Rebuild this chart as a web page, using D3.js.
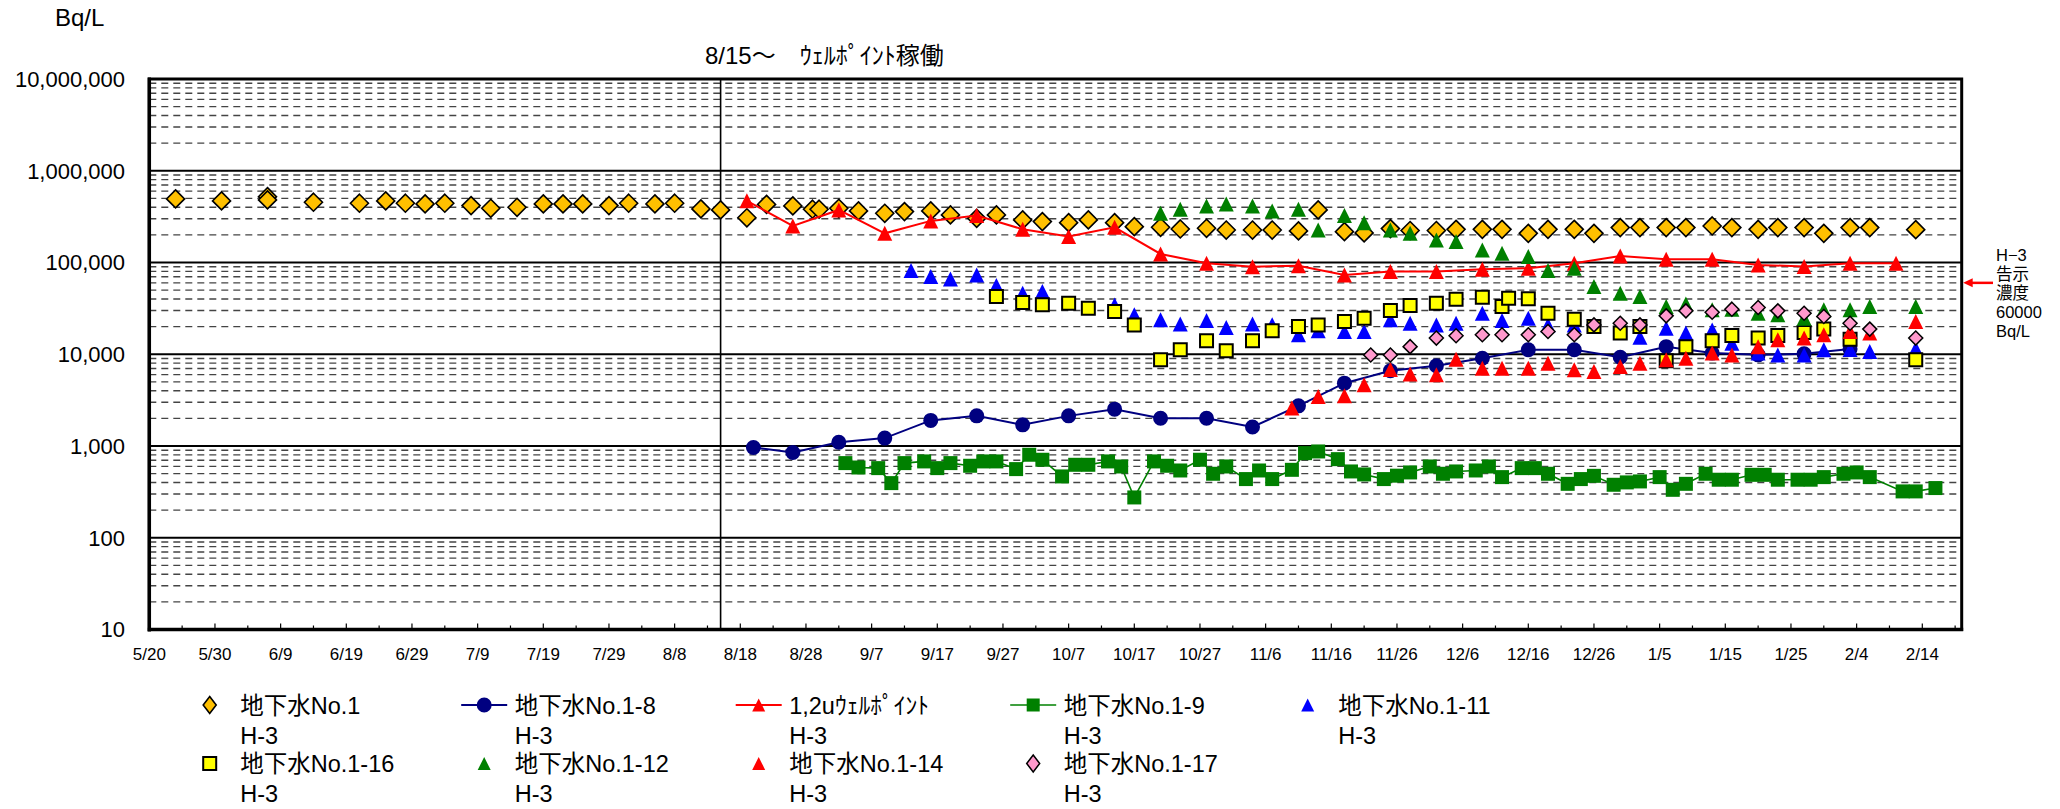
<!DOCTYPE html>
<html><head><meta charset="utf-8">
<script src="https://cdn.jsdelivr.net/npm/d3@7"></script>
<style>body{margin:0;background:#fff}svg{display:block}</style>
</head><body>
<svg id="chart" width="2060" height="809"></svg>
<script>
// ---------- axis labels ----------
const xTickLabels = ["5/20","5/30","6/9","6/19","6/29","7/9","7/19","7/29","8/8","8/18","8/28","9/7","9/17","9/27","10/7","10/17","10/27","11/6","11/16","11/26","12/6","12/16","12/26","1/5","1/15","1/25","2/4","2/14"];
const yTickValues = [10,100,1000,10000,100000,1000000,10000000];
const yTickLabels = ["10","100","1,000","10,000","100,000","1,000,000","10,000,000"];
const xDomain = ["5/20","2/20"];
const startLine = "8/15";

// ---------- series data (date M/D, value Bq/L) ----------
const no1Dates = ["5/24","5/31","6/7","6/7","6/14","6/21","6/25","6/28","7/1","7/4","7/8","7/11","7/15","7/19","7/22","7/25","7/29","8/1","8/5","8/8","8/12","8/15","8/19","8/22","8/26","8/29","8/30","9/2","9/5","9/9","9/12","9/16","9/19","9/23","9/26","9/30","10/3","10/7","10/10","10/14","10/17","10/21","10/24","10/28","10/31","11/4","11/7","11/11","11/14","11/18","11/21","11/25","11/28","12/2","12/5","12/9","12/12","12/16","12/19","12/23","12/26","12/30","1/2","1/6","1/9","1/13","1/16","1/20","1/23","1/27","1/30","2/3","2/6","2/13"];
const no1Values = [493000,469000,522000,481000,454000,443000,469000,443000,435000,443000,417000,390000,400000,435000,435000,435000,417000,443000,435000,443000,384000,374000,307000,430000,414000,381000,381000,390000,365000,344000,359000,365000,330000,303000,330000,291000,279000,272000,291000,272000,246000,242000,232000,236000,226000,226000,226000,221000,374000,217000,210000,234000,223000,223000,230000,230000,230000,208000,230000,230000,208000,240000,240000,240000,240000,250000,240000,230000,240000,240000,208000,240000,240000,228000];

const no1_8Dates = ["8/20","8/26","9/2","9/9","9/16","9/23","9/30","10/7","10/14","10/21","10/28","11/4","11/11","11/18","11/25","12/2","12/9","12/16","12/23","12/30","1/6","1/13","1/20","1/27","2/3"];
const no1_8Values = [964,851,1100,1220,1900,2130,1700,2130,2520,2010,2010,1610,2740,4840,6600,7480,9060,11200,11200,9290,12100,10300,9850,10100,11400];

const wellPointDates = ["8/19","8/26","9/2","9/9","9/16","9/23","9/30","10/7","10/14","10/21","10/28","11/4","11/11","11/18","11/25","12/2","12/9","12/16","12/23","12/30","1/6","1/13","1/20","1/27","2/3","2/10"];
const wellPointValues = [470000,250000,374000,208000,284000,325000,230000,192000,242000,124000,98000,90000,92000,73000,79600,79600,84500,86700,98200,118000,108600,108600,94200,90400,98200,98200];

const no1_9Dates = ["9/3","9/5","9/8","9/10","9/12","9/15","9/17","9/19","9/22","9/24","9/26","9/29","10/1","10/3","10/6","10/8","10/10","10/13","10/15","10/17","10/20","10/22","10/24","10/27","10/29","10/31","11/3","11/5","11/7","11/10","11/12","11/14","11/17","11/19","11/21","11/24","11/26","11/28","12/1","12/3","12/5","12/8","12/10","12/12","12/15","12/17","12/19","12/22","12/24","12/26","12/29","12/31","1/2","1/5","1/7","1/9","1/12","1/14","1/16","1/19","1/21","1/23","1/26","1/28","1/30","2/2","2/4","2/6","2/11","2/13","2/16"];
const no1_9Values = [651,583,574,394,651,679,574,651,609,679,679,560,802,708,466,624,624,679,598,275,679,609,541,708,498,598,436,541,436,550,836,872,719,528,490,436,475,515,598,498,528,541,598,458,574,574,498,387,436,473,378,401,411,458,333,387,498,429,429,485,485,429,429,429,458,498,515,458,320,320,348];

const no1_11Dates = ["9/13","9/16","9/19","9/23","9/26","9/30","10/3","10/14","10/17","10/21","10/24","10/28","10/31","11/4","11/7","11/11","11/14","11/18","11/21","11/25","11/28","12/2","12/5","12/9","12/12","12/16","12/19","12/23","1/2","1/6","1/9","1/13","1/16","1/20","1/23","1/27","1/30","2/3","2/6","2/13"];
const no1_11Values = [81700,70300,66300,73300,56000,46300,48300,34500,26900,23700,21400,23300,19600,21400,21000,16300,18000,17700,17700,23700,21800,20900,21800,28000,23300,24700,20900,20900,15300,19200,17000,18400,13200,10300,9800,9800,11200,11300,10700,11500];

const no1_16Dates = ["9/26","9/30","10/3","10/7","10/10","10/14","10/17","10/21","10/24","10/28","10/31","11/4","11/7","11/11","11/14","11/18","11/21","11/25","11/28","12/2","12/5","12/9","12/12","12/13","12/16","12/19","12/23","12/26","12/30","1/2","1/6","1/9","1/13","1/16","1/20","1/23","1/27","1/30","2/3","2/13"];
const no1_16Values = [42600,36600,34600,36000,31800,29200,20900,8690,11200,14000,10900,14000,18000,20100,20900,22700,24700,30000,34000,36000,39800,41900,33100,40800,40200,28000,24100,20100,17000,20100,8470,12100,14000,16000,15000,16000,17300,18900,14600,8690];

const no1_12Dates = ["10/21","10/24","10/28","10/31","11/4","11/7","11/11","11/14","11/18","11/21","11/25","11/28","12/2","12/5","12/9","12/12","12/16","12/19","12/23","12/26","12/30","1/2","1/6","1/9","1/13","1/16","1/20","1/23","1/27","1/30","2/3","2/6","2/13"];
const no1_12Values = [344000,381000,414000,435000,414000,365000,381000,226000,325000,272000,226000,208000,176000,169000,137000,126000,116000,81600,86600,54700,46300,42600,33100,35400,30500,31000,28000,26900,24700,30500,30500,33100,33100];

const no1_14Dates = ["11/10","11/14","11/18","11/21","11/25","11/28","12/2","12/5","12/9","12/12","12/16","12/19","12/23","12/26","12/30","1/2","1/6","1/9","1/13","1/16","1/20","1/23","1/27","1/30","2/3","2/6","2/13"];
const no1_14Values = [2590,3470,3530,4640,6800,6100,5970,8840,7050,7050,7050,8000,6760,6490,7350,8000,8700,9060,10300,9800,12100,14400,15000,16300,17700,17000,22700];

const no1_17Dates = ["11/22","11/25","11/28","12/2","12/5","12/9","12/12","12/16","12/19","12/23","12/26","12/30","1/2","1/6","1/9","1/13","1/16","1/20","1/23","1/27","1/30","2/3","2/6","2/13"];
const no1_17Values = [9800,9800,12100,15000,15900,16300,16300,16300,17700,16300,20900,21800,20900,26200,29700,28700,31000,32300,29700,28000,25800,21800,18800,15000];

const seriesNames = ["地下水No.1","地下水No.1-8","1,2uｳｪﾙﾎﾟｲﾝﾄ","地下水No.1-9","地下水No.1-11","地下水No.1-16","地下水No.1-12","地下水No.1-14","地下水No.1-17"];
const seriesSub = "H-3";

// ---------- helpers ----------
function toDate(md){
  const [m,d] = md.split("/").map(Number);
  return new Date(Date.UTC(m >= 5 ? 2013 : 2014, m-1, d));
}

const series = [
  {name:seriesNames[0], dates:no1Dates, values:no1Values, shape:"diamond", fill:"#FFC000", stroke:"#000", sw:1.6, size:9, line:null},
  {name:seriesNames[1], dates:no1_8Dates, values:no1_8Values, shape:"circle", fill:"#000080", stroke:"#000080", sw:0, size:7.5, line:"#000080", lw:2},
  {name:seriesNames[2], dates:wellPointDates, values:wellPointValues, shape:"triangle", fill:"#FF0000", stroke:"#FF0000", sw:0, size:15, line:"#FF0000", lw:2},
  {name:seriesNames[3], dates:no1_9Dates, values:no1_9Values, shape:"square", fill:"#008000", stroke:"#008000", sw:0, size:14, line:"#008000", lw:1.6},
  {name:seriesNames[4], dates:no1_11Dates, values:no1_11Values, shape:"triangle", fill:"#0000FF", stroke:"#0000FF", sw:0, size:15, line:null},
  {name:seriesNames[5], dates:no1_16Dates, values:no1_16Values, shape:"square", fill:"#FFFF00", stroke:"#000", sw:2, size:13, line:null},
  {name:seriesNames[6], dates:no1_12Dates, values:no1_12Values, shape:"triangle", fill:"#008000", stroke:"#008000", sw:0, size:15, line:null},
  {name:seriesNames[7], dates:no1_14Dates, values:no1_14Values, shape:"triangle", fill:"#FF0000", stroke:"#FF0000", sw:0, size:15, line:null},
  {name:seriesNames[8], dates:no1_17Dates, values:no1_17Values, shape:"diamond", fill:"#FF99CC", stroke:"#000", sw:1.5, size:7, line:null}
];

const FONT = "'Liberation Sans', Arial, 'Noto Sans CJK JP', sans-serif";
const svg = d3.select("#chart").style("font-family", FONT);

const L = 149.3, R = 1961.7, T = 79, B = 629.5;
const x = d3.scaleUtc().domain(xDomain.map(toDate)).range([L, R]);
const y = d3.scaleLog().domain([10, 10000000]).range([B, T]);

// minor gridlines
const minorVals = [];
for (let k = 1; k < 7; k++) for (let m = 2; m <= 9; m++) minorVals.push(m * Math.pow(10, k));
svg.append("g").selectAll("line").data(minorVals).join("line")
  .attr("x1", L).attr("x2", R)
  .attr("y1", d => y(d)).attr("y2", d => y(d))
  .attr("stroke", "#444").attr("stroke-width", 1.4).attr("stroke-dasharray", "7,5");

// major gridlines
svg.append("g").selectAll("line").data(yTickValues).join("line")
  .attr("x1", L).attr("x2", R)
  .attr("y1", d => y(d)).attr("y2", d => y(d))
  .attr("stroke", "#000").attr("stroke-width", 2);

// 8/15 vertical line
svg.append("line").attr("x1", x(toDate(startLine))).attr("x2", x(toDate(startLine)))
  .attr("y1", T).attr("y2", B).attr("stroke", "#000").attr("stroke-width", 1.6);

// x ticks (minor every 5 days, major every 10)
const tickDates = d3.utcDay.range(toDate("5/20"), d3.utcDay.offset(toDate("2/20"), 1), 5);
svg.append("g").selectAll("line").data(tickDates).join("line")
  .attr("x1", d => x(d)).attr("x2", d => x(d))
  .attr("y1", B).attr("y2", (d, i) => B - (i % 2 === 0 ? 6 : 4))
  .attr("stroke", "#000").attr("stroke-width", 1.2);

// x labels
svg.append("g").selectAll("text").data(xTickLabels).join("text")
  .attr("x", d => x(toDate(d))).attr("y", 660)
  .attr("text-anchor", "middle").attr("font-size", 17).attr("fill", "#000")
  .text(d => d);

// y labels
svg.append("g").selectAll("text").data(yTickValues).join("text")
  .attr("x", 125).attr("y", d => y(d)).attr("dy", "0.36em")
  .attr("text-anchor", "end").attr("font-size", 22).attr("fill", "#000")
  .text((d, i) => yTickLabels[i]);

// plot border + axes
svg.append("rect").attr("x", L).attr("y", T).attr("width", R - L).attr("height", B - T)
  .attr("fill", "none").attr("stroke", "#000").attr("stroke-width", 3);
svg.append("line").attr("x1", L).attr("x2", L).attr("y1", T - 1.5).attr("y2", B + 2)
  .attr("stroke", "#000").attr("stroke-width", 3.5);
svg.append("line").attr("x1", L - 1.5).attr("x2", R + 1.5).attr("y1", B).attr("y2", B)
  .attr("stroke", "#000").attr("stroke-width", 3.5);

// marker drawing
function markerPath(shape, cx, cy, s) {
  if (shape === "diamond") return `M${cx},${cy - s}L${cx + s},${cy}L${cx},${cy + s}L${cx - s},${cy}Z`;
  if (shape === "triangle") return `M${cx},${cy - s / 2}L${cx + s / 2},${cy + s / 2}L${cx - s / 2},${cy + s / 2}Z`;
  if (shape === "square") return `M${cx - s / 2},${cy - s / 2}h${s}v${s}h${-s}Z`;
  if (shape === "circle") return `M${cx - s},${cy}a${s},${s} 0 1,0 ${2 * s},0a${s},${s} 0 1,0 ${-2 * s},0Z`;
}

const gSeries = svg.append("g");
series.forEach(s => {
  const pts = s.dates.map((d, i) => ({ d: toDate(d), v: s.values[i] }));
  const g = gSeries.append("g");
  if (s.line) {
    g.append("path").datum(pts)
      .attr("d", d3.line().x(p => x(p.d)).y(p => y(p.v)))
      .attr("fill", "none").attr("stroke", s.line).attr("stroke-width", s.lw);
  }
  g.selectAll("path.m").data(pts).join("path").attr("class", "m")
    .attr("d", p => markerPath(s.shape, x(p.d), y(p.v), s.size))
    .attr("fill", s.fill).attr("stroke", s.stroke).attr("stroke-width", s.sw);
});

// titles / annotations
svg.append("text").attr("x", 55).attr("y", 26).attr("font-size", 24).text("Bq/L");
svg.append("text").attr("x", 705).attr("y", 64).attr("font-size", 24).text("8/15～　ｳｪﾙﾎﾟｲﾝﾄ稼働");

const annLines = ["H−3", "告示", "濃度", "60000", "Bq/L"];
svg.append("g").selectAll("text").data(annLines).join("text")
  .attr("x", 1996).attr("y", (d, i) => 261 + i * 19)
  .attr("font-size", 16.5).text(d => d);
const ay = y(60000);
svg.append("line").attr("x1", 1993).attr("x2", 1970).attr("y1", ay).attr("y2", ay)
  .attr("stroke", "#FF0000").attr("stroke-width", 2.5);
svg.append("path").attr("d", `M${R + 1.5},${ay}L${R + 11},${ay - 4.5}L${R + 11},${ay + 4.5}Z`).attr("fill", "#FF0000");

// legend
const legendPos = [
  [0, 0], [1, 0], [2, 0], [3, 0], [4, 0],
  [0, 1], [1, 1], [2, 1], [3, 1]
];
const lg = svg.append("g");
series.forEach((s, i) => {
  const [c, r] = legendPos[i];
  const mx = 209.7 + c * 274.5;
  const ty = 705 + r * 58.5;
  const g = lg.append("g");
  if (s.line) {
    g.append("line").attr("x1", mx - 23).attr("x2", mx + 23).attr("y1", ty).attr("y2", ty)
      .attr("stroke", s.line).attr("stroke-width", s.lw);
  }
  const ls = s.shape === "diamond" ? 8 : (s.shape === "circle" ? 7.5 : 13);
  let p = markerPath(s.shape, mx, ty, ls);
  if (s.shape === "diamond") p = `M${mx},${ty - 8.5}L${mx + 6.5},${ty}L${mx},${ty + 8.5}L${mx - 6.5},${ty}Z`;
  g.append("path").attr("d", p).attr("fill", s.fill).attr("stroke", s.stroke).attr("stroke-width", s.sw);
  g.append("text").attr("x", mx + 30.5).attr("y", ty + 8.5).attr("font-size", 23.5).text(s.name);
  g.append("text").attr("x", mx + 30.5).attr("y", ty + 38.5).attr("font-size", 23.5).text(seriesSub);
});
</script>
</body></html>
